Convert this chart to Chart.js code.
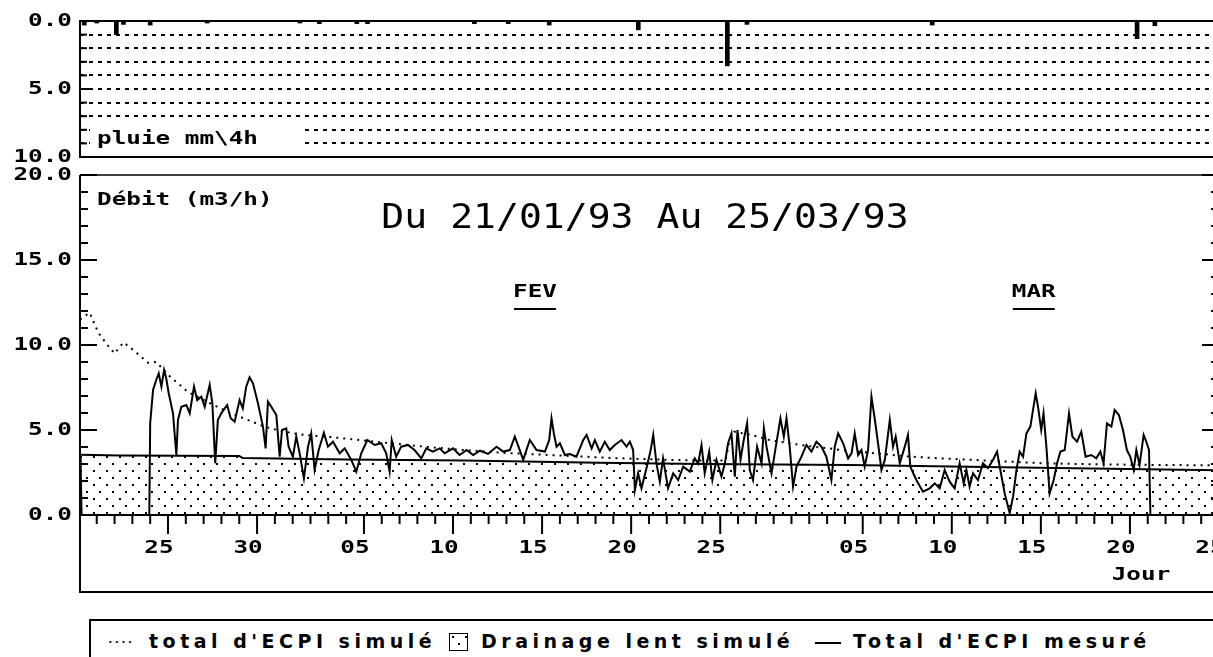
<!DOCTYPE html>
<html lang="fr">
<head>
<meta charset="utf-8">
<title>ECPI — débit et pluie</title>
<script src="https://cdn.jsdelivr.net/npm/chart.js@4.4.1/dist/chart.umd.min.js"></script>
<style>
  html, body { margin: 0; padding: 0; background: #fff; width: 1213px; height: 657px; overflow: hidden; }
  #c-pluie { position: absolute; left: 0; top: 0; }
  #c-debit { position: absolute; left: 0; top: 160px; }
  #legende {
    position: absolute; left: 89px; top: 619px; width: 1200px; height: 60px; box-sizing: border-box;
    border-top: 2px solid #000; border-left: 2px solid #000; color: #000;
  }
  #legende .it {
    position: absolute; top: 9px; white-space: nowrap; line-height: 22px;
    font: bold 19px "DejaVu Sans", sans-serif; letter-spacing: 4.5px;
  }
  #legende .pts { position: absolute; top: 9px; font: bold 11px "DejaVu Sans Mono", monospace; line-height: 26px; }
  #legende .boite { position: absolute; top: 12px; width: 17px; height: 16px; border: 1.5px solid #000; }
  #legende .trait { position: absolute; top: 21px; width: 26px; border-top: 2px solid #000; }
</style>
</head>
<body>
<canvas id="c-pluie" width="1230" height="170"></canvas>
<canvas id="c-debit" width="1230" height="450"></canvas>
<div id="legende">
  <span class="pts" style="left:16px">····</span>
  <span class="it" style="left:58px">total d'ECPI simulé</span>
  <span class="boite" id="boite" style="left:358px"></span>
  <span class="it" style="left:390px">Drainage lent simulé</span>
  <span class="trait" style="left:724px"></span>
  <span class="it" style="left:762px">Total d'ECPI mesuré</span>
</div>

<script>
'use strict';
/* Débit ECPI du 21/01/93 au 25/03/93 — x = jour de l'année 1993 */

const JOUR_MIN = 20.06, JOUR_MAX = 84;

// Axe des jours : graduations principales et libellés
const jourTicks  = [25, 30, 36, 41, 46, 51, 56, 64, 69, 74, 79, 84];
const jourLabels = ['25', '30', '05', '10', '15', '20', '25', '05', '10', '15', '20', '25'];

// Pluie (mm / 4h)
const pluieJours = [20.3, 21.0, 22.1, 22.5, 24.0, 27.2, 32.4, 33.5, 35.6, 36.2, 42.2, 44.1, 46.4, 51.4, 56.4, 57.5, 67.9, 79.4, 80.4];
const pluieMm    = [0.3, 0.15, 1.0, 0.25, 0.3, 0.15, 0.15, 0.2, 0.2, 0.2, 0.2, 0.2, 0.3, 0.65, 3.3, 0.25, 0.3, 1.3, 0.35];

// Total d'ECPI simulé [jour, m3/h]
const simule = [
  [20.06, 11.5], [20.6, 11.9], [21.1, 10.7], [21.6, 10.0], [22.0, 9.5], [22.5, 10.15], [23.0, 9.75],
  [23.9, 8.95], [24.35, 9.0], [25.0, 8.25], [26.1, 7.25], [27.4, 6.55], [28.5, 6.0], [29.7, 5.5],
  [30.4, 5.2], [31.5, 4.9], [32.7, 4.7], [34.0, 4.6], [35.8, 4.4], [37.7, 4.2], [39.6, 4.0],
  [41.6, 3.82], [44, 3.65], [47, 3.5], [50, 3.35], [52, 3.28], [54, 3.22], [56.3, 3.2], [56.5, 4.3],
  [56.8, 4.9], [57.8, 4.7], [58.8, 4.4], [60.6, 4.1], [62.0, 3.93], [63.0, 3.8], [65, 3.6], [66.5, 3.45],
  [68, 3.35], [70, 3.25], [72, 3.15], [74, 3.05], [76, 3.0], [78, 2.97], [80, 2.95], [84, 2.92],
];

// Drainage lent simulé [jour, m3/h]
const drainage = [
  [20.06, 3.55], [22.3, 3.5], [29.0, 3.47], [29.2, 3.35], [35, 3.27], [41.6, 3.2], [49.2, 3.08],
  [55, 3.0], [63.3, 2.94], [69, 2.85], [75.8, 2.75], [84, 2.63],
];

// Total d'ECPI mesuré [jour, m3/h]
const mesure = [
  [20.06, 3.4], [20.1, 2.7], [20.15, 0], [23.95, 0],
  [24.0, 5.4], [24.16, 7.35], [24.34, 7.94], [24.48, 8.33], [24.63, 7.55], [24.78, 8.53], [24.9, 8.04],
  [25.04, 7.16], [25.28, 5.98], [25.47, 3.53], [25.56, 5.59], [25.75, 6.37], [26.03, 6.47], [26.22, 5.98],
  [26.46, 7.55], [26.64, 6.76], [26.87, 6.96], [27.06, 6.37], [27.34, 7.65], [27.49, 6.57], [27.65, 3.04],
  [27.8, 5.59], [27.99, 5.98], [28.32, 6.47], [28.52, 5.69], [28.74, 5.49], [29.02, 6.76], [29.2, 6.27],
  [29.39, 7.55], [29.58, 8.1], [29.77, 7.75], [30.05, 6.57], [30.33, 5.2], [30.48, 3.92], [30.61, 6.67],
  [30.8, 6.37], [31.08, 5.88], [31.27, 3.43], [31.4, 5.0], [31.64, 5.1], [31.77, 4.02], [32.01, 3.43],
  [32.2, 4.61], [32.39, 3.63], [32.63, 2.16], [32.86, 4.02], [33.04, 4.8], [33.23, 2.65], [33.46, 3.82],
  [33.75, 4.84], [33.98, 4.02], [34.26, 4.31], [34.64, 3.63], [34.92, 3.92], [35.29, 3.24], [35.57, 2.55],
  [35.85, 3.63], [36.19, 4.41], [36.6, 4.12], [36.97, 4.22], [37.25, 3.63], [37.44, 2.55], [37.56, 4.41],
  [37.81, 3.43], [38.09, 4.02], [38.47, 4.12], [38.84, 3.82], [39.22, 3.33], [39.5, 3.92], [39.87, 3.73],
  [40.25, 3.92], [40.53, 3.63], [41.0, 3.92], [41.37, 3.53], [41.76, 3.82],
  [42.13, 3.53], [42.51, 3.78], [42.97, 3.59], [43.44, 4.02], [43.82, 3.73], [44.19, 3.82], [44.47, 4.61],
  [44.71, 3.92], [44.94, 3.24], [45.31, 4.41], [45.69, 3.82], [46.16, 3.73], [46.4, 4.41], [46.53, 5.69],
  [46.66, 4.8], [46.81, 4.02], [47.0, 4.22], [47.28, 3.53], [47.56, 3.59], [47.93, 3.43], [48.31, 4.41],
  [48.5, 4.71], [48.78, 3.92], [48.96, 4.41], [49.24, 3.73], [49.52, 4.31], [49.8, 3.82], [50.08, 4.12],
  [50.46, 4.41], [50.74, 4.02], [50.93, 4.31], [51.11, 3.82], [51.21, 1.47], [51.39, 2.45], [51.58, 1.57],
  [51.86, 2.75], [52.08, 3.73], [52.24, 4.71], [52.42, 3.04], [52.61, 1.96], [52.79, 3.33], [53.07, 1.57],
  [53.36, 2.45], [53.64, 2.06], [53.92, 2.84], [54.29, 2.55], [54.57, 3.33], [54.76, 3.04], [54.95, 4.12],
  [55.13, 2.45], [55.38, 3.73], [55.56, 2.06], [55.79, 3.24], [56.07, 2.26], [56.26, 3.04], [56.44, 4.22],
  [56.63, 4.8], [56.82, 2.26], [56.97, 5.0], [57.14, 3.24], [57.32, 4.41], [57.51, 5.39], [57.66, 2.65],
  [57.84, 2.06], [58.07, 4.02], [58.32, 3.04], [58.45, 5.1], [58.6, 4.02], [58.88, 2.45], [59.06, 3.63],
  [59.38, 5.69], [59.57, 4.61], [59.72, 5.69], [59.9, 4.02], [60.09, 1.67], [60.28, 2.84], [60.56, 3.43],
  [60.84, 4.12], [61.12, 3.73], [61.4, 4.31], [61.68, 4.02], [61.96, 3.43], [62.24, 2.06], [62.43, 4.02],
  [62.62, 4.8], [62.9, 4.22],
  [63.18, 3.33], [63.37, 3.63], [63.55, 4.8], [63.74, 3.53], [63.93, 3.82], [64.11, 2.84], [64.3, 3.82],
  [64.49, 6.96], [64.67, 5.69], [64.86, 4.22], [65.05, 2.65], [65.24, 3.24], [65.52, 5.59], [65.7, 4.02],
  [65.85, 4.61], [66.08, 3.04], [66.36, 4.02], [66.54, 4.71], [66.67, 2.84], [67.01, 2.06], [67.38, 1.37],
  [67.76, 1.57], [68.04, 1.86], [68.32, 1.57], [68.6, 2.65], [68.88, 1.96], [69.16, 1.57], [69.44, 3.04],
  [69.67, 1.86], [69.82, 2.65], [70.0, 1.67], [70.19, 2.45], [70.47, 2.06], [70.75, 3.04], [71.03, 2.75],
  [71.31, 3.24], [71.54, 3.73], [71.69, 2.84], [71.97, 1.27], [72.25, 0.1], [72.44, 1.08], [72.63, 2.65],
  [72.81, 3.73], [73.0, 3.43], [73.19, 4.8], [73.41, 5.2], [73.56, 6.18], [73.71, 7.16], [73.84, 6.37],
  [74.02, 5.0], [74.15, 5.98], [74.31, 4.02], [74.49, 1.27], [74.72, 2.06], [74.91, 3.04], [75.1, 3.73],
  [75.34, 3.82], [75.58, 5.98], [75.77, 4.61], [76.03, 4.31], [76.27, 4.9], [76.51, 3.43], [76.83, 3.53],
  [77.11, 3.33], [77.34, 3.73], [77.52, 3.04], [77.71, 5.39], [77.96, 5.2], [78.14, 6.18], [78.38, 5.88],
  [78.61, 5.0], [78.83, 3.82], [79.02, 3.43], [79.21, 2.65], [79.36, 3.82], [79.54, 2.94], [79.77, 4.71],
  [79.92, 4.31], [80.07, 3.82], [80.15, 0],
];

const FONTE = 'bold 18px "DejaVu Sans Mono"';
const SX = 1.35;   // police de traceur, large

// Texte élargi horizontalement
function txt(ctx, s, x, y, align = 'left', base = 'alphabetic', font = FONTE, sx = SX) {
  ctx.save();
  ctx.font = font;
  ctx.textBaseline = base;
  ctx.textAlign = 'left';
  const w = ctx.measureText(s).width * sx;
  const x0 = align === 'center' ? x - w / 2 : align === 'right' ? x - w : x;
  ctx.translate(x0, y);
  ctx.scale(sx, 1);
  ctx.fillStyle = '#000';
  ctx.fillText(s, 0, 0);
  ctx.restore();
}

function trait(ctx, x1, y1, x2, y2, w = 2) {
  ctx.lineWidth = w;
  ctx.beginPath(); ctx.moveTo(x1, y1); ctx.lineTo(x2, y2); ctx.stroke();
}

// Trame pointillée du drainage lent
const motif = document.createElement('canvas');
motif.width = 13; motif.height = 14;
{
  const g = motif.getContext('2d');
  g.fillStyle = '#000';
  g.fillRect(2, 2, 2, 2);
  g.fillRect(8, 9, 2, 2);
}
document.getElementById('boite').style.background = `url(${motif.toDataURL()})`;

// ── Panneau pluie ───────────────────────────────
const cadrePluie = {
  id: 'cadrePluie',
  afterDraw(chart) {
    const { ctx, chartArea: a, scales: { y }, width } = chart;
    ctx.save();
    ctx.strokeStyle = '#000';
    // étiquette sur fond blanc
    ctx.fillStyle = '#fff';
    ctx.fillRect(a.left + 10, y.getPixelForValue(7.6), 215, y.getPixelForValue(9.6) - y.getPixelForValue(7.6));
    txt(ctx, 'pluie mm\\4h', a.left + 17, a.bottom - 13);
    // cadre
    trait(ctx, a.left, a.top, width, a.top);
    trait(ctx, a.left, a.bottom, width, a.bottom);
    trait(ctx, a.left, a.top - 1, a.left, a.bottom + 1);
    // graduations vers l'intérieur
    y.ticks.forEach(t => {
      const py = y.getPixelForValue(t.value);
      trait(ctx, a.left, py, a.left + (t.value % 5 === 0 ? 13 : 7), py);
    });
    [0, 5, 10].forEach(v => txt(ctx, v.toFixed(1), a.left - 8, y.getPixelForValue(v), 'right', 'middle'));
    ctx.restore();
  },
};

new Chart(document.getElementById('c-pluie'), {
  type: 'bar',
  data: {
    datasets: [{
      label: 'pluie mm\\4h',
      data: pluieJours.map((x, i) => ({ x, y: pluieMm[i] })),
      backgroundColor: '#000',
      barThickness: 4,
    }],
  },
  options: {
    responsive: false, animation: false, events: [],
    layout: { padding: { top: 21, left: 0, right: 11, bottom: 13 } },
    plugins: { legend: { display: false }, tooltip: { enabled: false } },
    scales: {
      x: { type: 'linear', min: JOUR_MIN, max: JOUR_MAX, offset: false, display: false },
      y: {
        reverse: true, min: 0, max: 10,
        ticks: { display: false, stepSize: 1 },
        grid: { color: '#000', lineWidth: 2, drawTicks: false },
        border: { display: false, dash: [4, 5] },
        afterFit: s => { s.width = 80; },
      },
    },
  },
  plugins: [cadrePluie],
});

// ── Panneau débit ───────────────────────────────
const cadreDebit = {
  id: 'cadreDebit',
  afterDraw(chart) {
    const { ctx, chartArea: a, scales: { x, y }, width } = chart;
    const bas = a.bottom + 77;
    ctx.save();
    ctx.strokeStyle = '#000';
    // cadre et axe
    trait(ctx, a.left, a.top, width, a.top, 1.5);
    trait(ctx, a.left, a.top, a.left, bas + 1);
    trait(ctx, a.left, a.bottom, width, a.bottom);
    trait(ctx, a.left, bas, width, bas);
    // graduations Y (gauche et droite, vers l'intérieur)
    y.ticks.forEach(t => {
      const py = y.getPixelForValue(t.value);
      const l = t.value % 5 === 0 ? 17 : 8;
      trait(ctx, a.left, py, a.left + l, py);
      trait(ctx, a.right, py, a.right - l, py);
    });
    [0, 5, 10, 15, 20].forEach(v => txt(ctx, v.toFixed(1), a.left - 8, y.getPixelForValue(v), 'right', 'middle'));
    // graduations X (jours)
    x.ticks.forEach(t => {
      const px = x.getPixelForValue(t.value);
      trait(ctx, px, a.bottom, px, a.bottom + (jourTicks.includes(t.value) ? 19 : 9));
    });
    jourTicks.forEach((d, i) => txt(ctx, jourLabels[i], x.getPixelForValue(d) - 9, a.bottom + 33, 'center', 'middle'));
    txt(ctx, 'Jour', 1141, a.bottom + 60, 'center', 'middle');
    // titres
    txt(ctx, 'Débit (m3/h)', a.left + 17, a.top + 30);
    txt(ctx, 'Du 21/01/93 Au 25/03/93', a.left + 565, a.top + 53, 'center', 'alphabetic', '34px "DejaVu Sans Mono"', 1.12);
    [['FEV', 45.6], ['MAR', 73.6]].forEach(([m, d]) => {
      const cx = x.getPixelForValue(d);
      txt(ctx, m, cx, a.top + 122, 'center');
      trait(ctx, cx - 21, a.top + 134, cx + 21, a.top + 134);
    });
    ctx.restore();
  },
};

const ctxDebit = document.getElementById('c-debit').getContext('2d');
const pts = arr => arr.map(([x, y]) => ({ x, y }));

new Chart(ctxDebit, {
  type: 'line',
  data: {
    datasets: [
      {
        label: "Total d'ECPI mesuré", data: pts(mesure),
        borderColor: '#000', borderWidth: 2, pointRadius: 0, fill: false, order: 0,
      },
      {
        label: "total d'ECPI simulé", data: pts(simule),
        borderColor: '#000', borderWidth: 2, borderDash: [2, 5], pointRadius: 0, fill: false, order: 1,
      },
      {
        label: 'Drainage lent simulé', data: pts(drainage),
        borderColor: '#000', borderWidth: 2, pointRadius: 0,
        fill: 'origin', backgroundColor: ctxDebit.createPattern(motif, 'repeat'), order: 2,
      },
    ],
  },
  options: {
    responsive: false, animation: false, events: [],
    layout: { padding: { top: 15, left: 0, right: 11, bottom: 18 } },
    plugins: { legend: { display: false }, tooltip: { enabled: false } },
    scales: {
      x: {
        type: 'linear', min: JOUR_MIN, max: JOUR_MAX,
        grid: { display: false }, border: { display: false }, ticks: { display: false },
        afterBuildTicks: s => {
          const t = [];
          for (let d = 21; d <= JOUR_MAX; d++) t.push({ value: d });
          s.ticks = t;
        },
        afterFit: s => { s.height = 77; },
      },
      y: {
        min: 0, max: 20,
        grid: { display: false }, border: { display: false }, ticks: { display: false, stepSize: 1 },
        afterFit: s => { s.width = 80; },
      },
    },
  },
  plugins: [cadreDebit],
});
</script>
</body>
</html>
